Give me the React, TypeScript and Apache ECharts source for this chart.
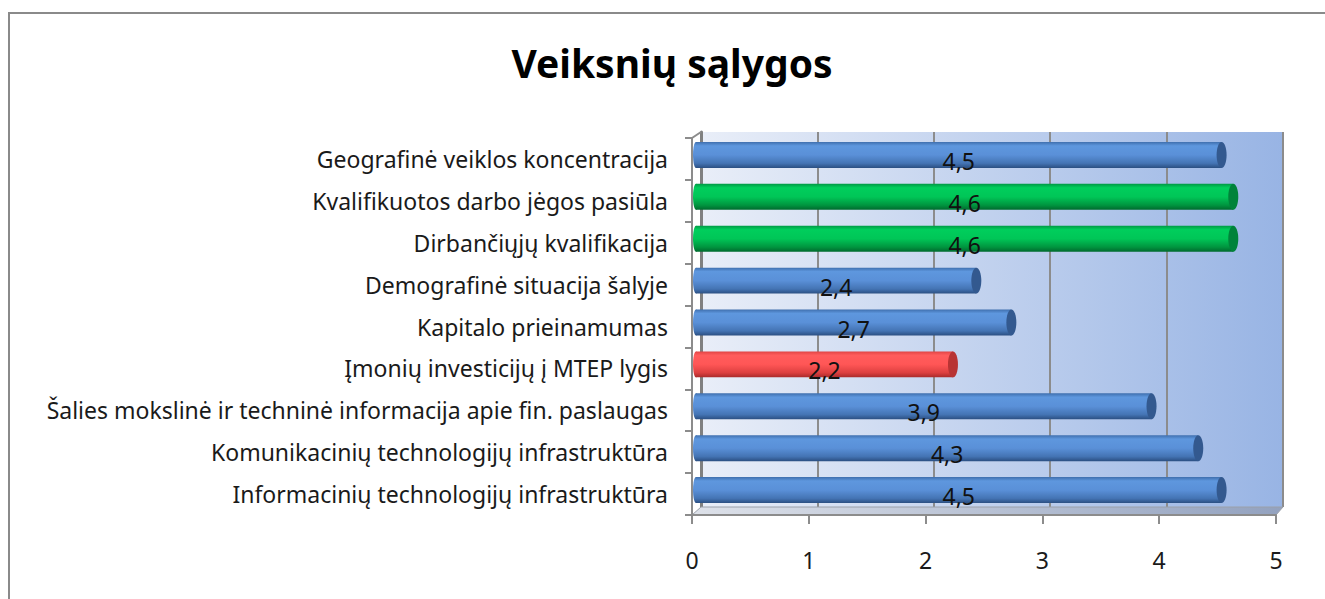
import React, { useEffect, useRef } from 'react';
import * as echarts from 'echarts';

const chartTitle = 'Veiksnių sąlygos';
const categories = [
  'Informacinių technologijų infrastruktūra',
  'Komunikacinių technologijų infrastruktūra',
  'Šalies mokslinė ir techninė informacija apie fin. paslaugas',
  'Įmonių investicijų į MTEP lygis',
  'Kapitalo prieinamumas',
  'Demografinė situacija šalyje',
  'Dirbančiųjų kvalifikacija',
  'Kvalifikuotos darbo jėgos pasiūla',
  'Geografinė veiklos koncentracija',
];
const values = [4.5, 4.3, 3.9, 2.2, 2.7, 2.4, 4.6, 4.6, 4.5];
const barColorKeys = ['blue', 'blue', 'blue', 'red', 'blue', 'blue', 'green', 'green', 'blue'];
const xMin = 0;
const xMax = 5;
const xInterval = 1;

const palettes: Record<string, { stops: string[]; cap: string }> = {
  blue: { stops: ['#3f6fae', '#5e97de', '#5a90d8', '#4474b4', '#2b4f82'], cap: '#33598f' },
  green: { stops: ['#009a45', '#00ce5c', '#00c657', '#00953f', '#006a2e'], cap: '#00833a' },
  red: { stops: ['#e04444', '#ff5c5c', '#ff5656', '#dd4040', '#a82a2a'], cap: '#b83434' },
};

const FONT = 'Noto Sans';

export default function App() {
  const ref = useRef<HTMLDivElement>(null);
  useEffect(() => {
    const chart = echarts.init(ref.current!, null, { renderer: 'svg' });
    const dx = 4;
    const dy = -4;
    const option: any = {
      animation: false,
      backgroundColor: '#ffffff',
      title: {
        text: chartTitle,
        left: 667,
        textAlign: 'center',
        top: 38,
        textStyle: { fontFamily: FONT, fontSize: 39, fontWeight: 'bold', color: '#000' },
      },
      graphic: [
        {
          type: 'rect',
          z: -10,
          shape: { x: 9, y: 13, width: 1400, height: 700 },
          style: { fill: 'none', stroke: '#8a8a8a', lineWidth: 2 },
        },
        {
          type: 'polygon',
          z: 1,
          shape: { points: [[692, 515], [1276, 515], [1283, 507], [701, 507]] },
          style: {
            fill: new echarts.graphic.LinearGradient(0, 0, 1, 0, [
              { offset: 0, color: '#dde1e9' },
              { offset: 1, color: '#93a2bf' },
            ]),
            stroke: '#9aa0aa',
            lineWidth: 1,
          },
        },
        {
          type: 'line',
          z: 5,
          shape: { x1: 692, y1: 138, x2: 701, y2: 132 },
          style: { stroke: '#8c8c8c', lineWidth: 2 },
        },
      ],
      grid: [
        { left: 692, right: 49, top: 138, bottom: 84, containLabel: false },
        {
          left: 701,
          right: 42,
          top: 132,
          bottom: 92,
          show: true,
          borderWidth: 0,
          backgroundColor: new echarts.graphic.LinearGradient(0, 0, 1, 0, [
            { offset: 0, color: '#e9eef8' },
            { offset: 1, color: '#98b4e4' },
          ]),
          z: 0,
        },
      ],
      xAxis: [
        {
          type: 'value',
          gridIndex: 0,
          min: xMin,
          max: xMax,
          interval: xInterval,
          splitLine: { show: false },
          axisLine: { show: true, lineStyle: { color: '#8c8c8c', width: 2 } },
          axisTick: { show: true, length: 9, lineStyle: { color: '#8c8c8c', width: 2 } },
          axisLabel: { margin: 33, fontFamily: FONT, fontSize: 23, color: '#1a1a1a' },
          z: 6,
        },
        {
          type: 'value',
          gridIndex: 1,
          min: xMin,
          max: xMax,
          interval: xInterval,
          axisLine: { show: false },
          axisTick: { show: false },
          axisLabel: { show: false },
          splitLine: { show: true, lineStyle: { color: '#8c8c8c', width: 2 } },
        },
      ],
      yAxis: [
        {
          type: 'category',
          gridIndex: 0,
          data: categories,
          axisLine: { show: true, lineStyle: { color: '#8c8c8c', width: 2 } },
          axisTick: { show: true, length: 7, lineStyle: { color: '#8c8c8c', width: 2 } },
          axisLabel: { margin: 24, fontFamily: FONT, fontSize: 23, color: '#1a1a1a' },
          z: 6,
        },
        {
          type: 'category',
          gridIndex: 1,
          data: categories,
          position: 'right',
          axisLine: { show: true, lineStyle: { color: '#808080', width: 3 } },
          axisTick: { show: false },
          axisLabel: { show: false },
          splitLine: { show: false },
        },
      ],
      series: [
        {
          type: 'custom',
          xAxisIndex: 0,
          yAxisIndex: 0,
          z: 4,
          clip: false,
          encode: { x: 0, y: 1 },
          data: values.map((v, i) => [v, i]),
          renderItem: (params: any, api: any) => {
            const v = api.value(0);
            const idx = api.value(1);
            const start = api.coord([0, idx]);
            const end = api.coord([v, idx]);
            const band = api.size([0, 1])[1];
            const h = band * 0.62;
            const cy = start[1] + dy;
            const x0 = start[0] + dx;
            const x1 = end[0] + dx;
            const p = palettes[barColorKeys[idx]];
            const mk = () =>
              new echarts.graphic.LinearGradient(0, 0, 0, 1, [
                { offset: 0, color: p.stops[0] },
                { offset: 0.15, color: p.stops[1] },
                { offset: 0.5, color: p.stops[2] },
                { offset: 0.82, color: p.stops[3] },
                { offset: 1, color: p.stops[4] },
              ]);
            const label = v.toFixed(1).replace('.', ',');
            return {
              type: 'group',
              children: [
                { type: 'ellipse', shape: { cx: x0, cy, rx: 3, ry: h / 2 }, style: { fill: mk() } },
                { type: 'rect', shape: { x: x0, y: cy - h / 2, width: x1 - x0, height: h }, style: { fill: mk() } },
                { type: 'ellipse', shape: { cx: x1, cy, rx: 5, ry: h / 2 }, style: { fill: p.cap } },
                {
                  type: 'text',
                  style: {
                    text: label,
                    x: (x0 + x1) / 2,
                    y: cy + 6,
                    align: 'center',
                    verticalAlign: 'middle',
                    fontFamily: FONT,
                    fontSize: 23,
                    fill: '#111',
                  },
                },
              ],
            };
          },
        },
      ],
    };
    chart.setOption(option);
    return () => chart.dispose();
  }, []);
  return <div ref={ref} style={{ position: 'absolute', left: 0, top: 0, width: 1325, height: 599 }} />;
}
